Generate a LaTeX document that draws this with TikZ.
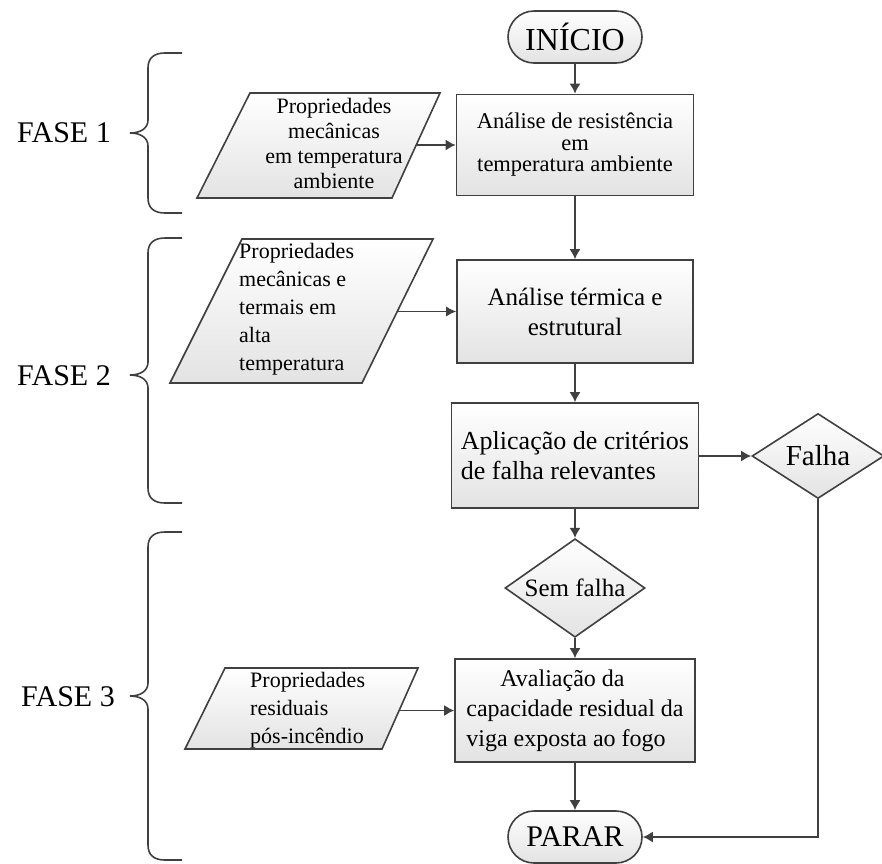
\documentclass[tikz,border=0pt]{standalone}
\usepackage{fontspec}
\setmainfont{Liberation Serif}
\usetikzlibrary{shapes.geometric,shapes.misc,arrows.meta}
\definecolor{ln}{HTML}{404040}
\tikzset{
  base/.style={draw=ln, line width=1.6pt, top color=white, bottom color=black!11, text=black, inner sep=0pt},
  procbox/.style={base, rectangle},
  term/.style={base, rounded rectangle, minimum width=134pt, minimum height=52pt},
  dec/.style={base, diamond},
  conn/.style={draw=ln, line width=1.6pt, -{Latex[length=10pt,width=11pt]}},
  thinconn/.style={draw=ln, line width=1pt, -{Latex[length=10pt,width=10pt]}},
  para/.style={draw=ln, line width=1.6pt, top color=white, bottom color=black!11},
  lbl/.style={inner sep=0pt, text=black},
  fase/.style={inner sep=0pt, font=\fontsize{30}{34}\selectfont},
  bracepath/.style={draw=ln, line width=1.6pt}
}
\begin{document}
\begin{tikzpicture}[x=1pt,y=-1pt]
\useasboundingbox (0,0) rectangle (882,863);

% braces
\path[bracepath] (182,53) -- (165,53) .. controls (154,53) and (148,58) .. (148,68) -- (148,120)
  .. controls (148,128) and (141,133) .. (130,133) .. controls (141,133) and (148,138) .. (148,146)
  -- (148,198) .. controls (148,208) and (154,213) .. (165,213) -- (182,213);
\path[bracepath] (182,238) -- (165,238) .. controls (154,238) and (148,243) .. (148,253) -- (148,362)
  .. controls (148,370) and (141,375) .. (130,375) .. controls (141,375) and (148,380) .. (148,388)
  -- (148,488) .. controls (148,498) and (154,503) .. (165,503) -- (182,503);
\path[bracepath] (182,532) -- (165,532) .. controls (154,532) and (148,537) .. (148,547) -- (148,683)
  .. controls (148,691) and (141,696) .. (130,696) .. controls (141,696) and (148,701) .. (148,709)
  -- (148,845) .. controls (148,855) and (154,860) .. (165,860) -- (182,860);

\node[fase] (f1) at (64,133) {FASE 1};
\node[fase] (f2) at (64,376) {FASE 2};
\node[fase] (f3) at (68,697) {FASE 3};

% parallelograms
\path[para] (250,93) -- (440,93) -- (392,198) -- (197,198) -- cycle;
\path[para] (242,239) -- (433,239) -- (362,383) -- (170,383) -- cycle;
\path[para] (225,668) -- (418,668) -- (382,749) -- (185,749) -- cycle;
\coordinate (p1r) at (416,145);
\coordinate (p2r) at (397,311.5);
\coordinate (p3r) at (400,710.5);

\node[lbl, align=center, font=\fontsize{22}{25}\selectfont] (p1) at (334,143)
  {Propriedades\\mecânicas\\em temperatura\\ambiente};
\node[lbl, align=left, anchor=west, font=\fontsize{22}{28}\selectfont] (p2) at (239,309)
  {Propriedades\\mecânicas e\\termais em\\alta\\temperatura};
\node[lbl, align=left, anchor=west, font=\fontsize{22}{28}\selectfont] (p3) at (250,710)
  {Propriedades\\residuais\\pós-incêndio};

% main flow
\node[term, font=\fontsize{32}{36}\selectfont] (inicio) at (575,37) {INÍCIO};
\node[procbox, minimum width=237pt, minimum height=101pt, align=center,
      font=\fontsize{22.5}{21.5}\selectfont] (b1) at (575,145)
  {Análise de resistência\\em\\temperatura ambiente};
\node[procbox, minimum width=236pt, minimum height=103pt, align=center,
      font=\fontsize{25}{30}\selectfont] (b2) at (575,311.5)
  {Análise térmica e\\estrutural};
\node[procbox, minimum width=247pt, minimum height=105pt, align=left,
      font=\fontsize{26}{30}\selectfont] (b3) at (575,455.5)
  {Aplicação de critérios\\de falha relevantes};
\node[dec, inner sep=-5pt, minimum width=140pt, minimum height=81pt, font=\fontsize{25}{28}\selectfont] (sf) at (575,588) {Sem falha};
\node[dec, minimum width=132pt, minimum height=85pt, font=\fontsize{29}{32}\selectfont] (falha) at (818,456) {Falha};
\node[procbox, minimum width=240pt, minimum height=103pt, align=left,
      font=\fontsize{24}{30}\selectfont] (b4) at (575,710.5)
  {\hspace*{34pt}Avaliação da\\capacidade residual da\\viga exposta ao fogo};
\node[term, font=\fontsize{30}{34}\selectfont] (parar) at (575,837) {PARAR};

% connectors
\draw[conn] (inicio) -- (b1);
\draw[conn] (b1) -- (b2);
\draw[conn] (b2) -- (b3);
\draw[conn] (b3) -- (sf);
\draw[conn] (sf) -- (b4);
\draw[conn] (b4) -- (parar);
\draw[conn] (p1r) -- (b1.west |- p1r);
\draw[thinconn] (p2r) -- (b2.west |- p2r);
\draw[conn] (p3r) -- (b4.west |- p3r);
\draw[conn] (b3.east |- falha.west) -- (falha.west);
\draw[conn] (falha.south) |- (parar.east);
\end{tikzpicture}
\end{document}
